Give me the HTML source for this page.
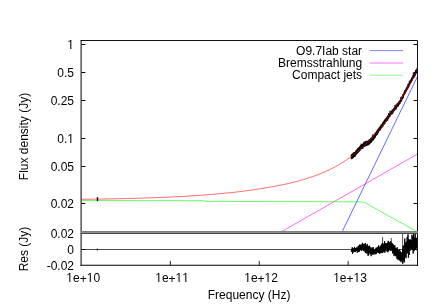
<!DOCTYPE html>
<html><head><meta charset="utf-8"><title>plot</title>
<style>html,body{margin:0;padding:0;background:#fff}svg{display:block;will-change:transform}text{font-family:"Liberation Sans",sans-serif;font-size:12px;fill:#000;font-kerning:none}</style>
</head><body>
<svg width="436" height="304" viewBox="0 0 436 304">
<rect x="0" y="0" width="436" height="304" fill="#fff"/>
<defs><clipPath id="cu"><rect x="81.50" y="40.50" width="336.00" height="192.00"/></clipPath>
<clipPath id="cl"><rect x="81.50" y="233.50" width="336.00" height="31.75"/></clipPath></defs>
<g clip-path="url(#cu)" fill="none" stroke-width="0.6">
<path d="M351.20,154.61V159.21M351.65,154.09V158.84M352.10,154.30V159.18M352.55,153.74V158.27M353.00,152.73V157.57M353.45,152.57V158.25M353.90,152.36V156.97M354.35,152.18V156.95M354.80,151.95V156.68M355.25,151.78V156.78M355.70,150.58V155.32M356.15,150.22V154.87M356.60,149.46V154.35M357.05,149.40V154.12M357.50,148.39V153.31M357.95,147.87V153.10M358.40,147.52V152.35M358.85,147.39V151.93M359.30,147.18V151.67M359.75,145.94V151.05M360.20,145.59V150.62M360.65,145.01V149.50M361.10,143.64V149.09M361.55,144.43V148.85M362.00,144.08V149.19M362.45,144.00V148.71M362.90,143.54V148.85M363.35,142.80V147.56M363.80,141.85V147.02M364.25,142.40V147.03M364.70,141.83V146.71M365.15,140.95V146.56M365.60,141.13V145.54M366.05,141.01V146.26M366.50,140.71V145.71M366.95,141.04V145.70M367.40,140.83V145.47M367.85,140.82V145.25M368.30,140.32V144.78M368.75,139.85V145.25M369.20,139.38V143.94M369.65,139.33V144.45M370.10,139.39V144.04M370.55,138.01V142.82M371.00,137.89V142.59M371.45,137.85V142.58M371.90,136.92V141.74M372.35,135.83V140.87M372.80,134.20V140.38M373.25,135.70V140.07M373.70,135.32V140.50M374.15,134.17V138.49M374.60,133.90V138.66M375.05,132.61V137.11M375.50,133.04V137.73M375.95,131.99V136.04M376.40,131.00V135.74M376.85,130.56V135.06M377.30,130.50V134.91M377.75,129.15V134.27M378.20,128.69V132.71M378.65,128.39V132.59M379.10,127.22V131.15M379.55,127.16V130.97M380.00,126.35V130.76M380.45,126.03V130.08M380.90,124.58V128.90M381.35,124.43V128.31M381.80,124.64V128.27M382.25,123.50V127.36M382.70,122.31V126.35M383.15,122.42V126.61M383.60,121.06V125.09M384.05,120.46V124.35M384.50,120.00V124.49M384.95,119.21V123.96M385.40,118.30V122.17M385.85,118.36V121.96M386.30,118.09V121.93M386.75,116.77V120.87M387.20,116.59V120.88M387.65,115.60V120.30M388.10,115.37V119.49M388.55,113.10V118.95M389.00,113.99V117.89M389.45,113.66V117.22M389.90,110.69V116.98M390.35,112.62V116.39M390.80,111.03V114.98M391.25,110.72V114.82M391.70,110.79V114.42M392.15,109.45V113.59M392.60,109.68V114.20M393.05,109.01V113.11M393.50,108.33V112.23M393.95,107.93V111.51M394.40,107.10V110.83M394.85,104.98V110.48M395.30,106.33V109.85M395.75,104.60V109.07M396.20,104.98V109.53M396.65,104.05V108.09M397.10,103.14V107.33M397.55,102.99V106.58M398.00,102.87V106.56M398.45,101.86V106.38M398.90,101.18V104.99M399.35,100.82V104.62M399.80,100.40V103.92M400.25,100.13V103.56M400.70,96.85V102.06M401.15,98.39V101.98M401.60,97.41V100.93M402.05,95.96V100.13M402.50,94.60V99.07M402.95,94.34V98.64M403.40,93.91V97.95M403.85,92.43V96.12M404.30,91.33V95.00M404.75,89.99V94.25M405.20,89.94V93.69M405.65,89.11V93.21M406.10,87.67V91.53M406.55,87.53V91.40M407.00,86.52V90.07M407.45,85.61V89.72M407.90,83.90V88.78M408.35,83.90V88.20M408.80,83.12V86.83M409.25,80.82V86.48M409.70,81.65V85.45M410.15,80.28V84.27M410.60,79.79V83.44M411.05,78.98V82.48M411.50,77.69V82.34M411.95,77.36V81.11M412.40,76.57V80.55M412.85,75.08V79.36M413.30,72.78V78.72M413.75,73.94V77.80M414.20,71.85V77.44M414.65,73.23V77.39M415.10,72.07V76.02M415.55,69.93V75.39M416.00,69.90V73.65M416.45,69.51V73.36M416.90,68.48V72.45M417.35,67.18V71.60" stroke="#000" stroke-width="0.95"/>
<path d="M81.50,199.32 L83.50,199.29 L85.50,199.27 L87.50,199.25 L89.50,199.22 L91.50,199.20 L93.50,199.17 L95.50,199.14 L97.50,199.11 L99.50,199.08 L101.50,199.05 L103.50,199.02 L105.50,198.99 L107.50,198.95 L109.50,198.92 L111.50,198.88 L113.50,198.84 L115.50,198.80 L117.50,198.76 L119.50,198.72 L121.50,198.67 L123.50,198.63 L125.50,198.58 L127.50,198.53 L129.50,198.48 L131.50,198.43 L133.50,198.38 L135.50,198.32 L137.50,198.27 L139.50,198.21 L141.50,198.15 L143.50,198.09 L145.50,198.02 L147.50,197.96 L149.50,197.89 L151.50,197.82 L153.50,197.74 L155.50,197.67 L157.50,197.59 L159.50,197.51 L161.50,197.43 L163.50,197.35 L165.50,197.26 L167.50,197.17 L169.50,197.08 L171.50,196.99 L173.50,196.89 L175.50,196.79 L177.50,196.69 L179.50,196.58 L181.50,196.47 L183.50,196.36 L185.50,196.25 L187.50,196.13 L189.50,196.01 L191.50,195.88 L193.50,195.75 L195.50,195.62 L197.50,195.49 L199.50,195.35 L201.50,195.20 L203.50,195.06 L205.50,194.91 L207.50,194.75 L209.50,194.59 L211.50,194.43 L213.50,194.26 L215.50,194.09 L217.50,193.91 L219.50,193.73 L221.50,193.54 L223.50,193.35 L225.50,193.16 L227.50,192.95 L229.50,192.75 L231.50,192.54 L233.50,192.32 L235.50,192.09 L237.50,191.87 L239.50,191.63 L241.50,191.39 L243.50,191.14 L245.50,190.89 L247.50,190.63 L249.50,190.36 L251.50,190.08 L253.50,189.80 L255.50,189.51 L257.50,189.22 L259.50,188.91 L261.50,188.60 L263.50,188.28 L265.50,187.95 L267.50,187.61 L269.50,187.26 L271.50,186.90 L273.50,186.54 L275.50,186.16 L277.50,185.77 L279.50,185.37 L281.50,184.96 L283.50,184.53 L285.50,184.10 L287.50,183.65 L289.50,183.19 L291.50,182.71 L293.50,182.22 L295.50,181.71 L297.50,181.18 L299.50,180.64 L301.50,180.08 L303.50,179.50 L305.50,178.90 L307.50,178.28 L309.50,177.64 L311.50,176.98 L313.50,176.29 L315.50,175.57 L317.50,174.83 L319.50,174.05 L321.50,173.25 L323.50,172.42 L325.50,171.55 L327.50,170.65 L329.50,169.71 L331.50,168.73 L333.50,167.71 L335.50,166.64 L337.50,165.53 L339.50,164.38 L341.50,163.17 L343.50,161.91 L345.50,160.60 L347.50,159.24 L349.50,157.81 L351.50,156.32 L353.50,154.78 L355.50,153.16 L357.50,151.49 L359.50,149.76 L361.50,147.99 L363.50,146.14 L365.50,144.35 L367.50,142.56 L369.50,140.66 L371.50,138.66 L373.50,136.55 L375.50,134.35 L377.50,132.05 L379.50,129.66 L381.50,127.17 L383.50,124.59 L385.50,121.92 L387.50,119.17 L389.50,116.34 L391.50,113.43 L393.50,110.44 L395.50,107.39 L397.50,104.26 L399.50,101.08 L401.50,97.83 L403.50,94.52 L405.50,91.16 L407.50,87.75 L409.50,84.29 L411.50,80.78 L413.50,77.24 L415.50,73.65 L417.50,70.02 L417.50,70.02" stroke="#ff0000"/>
<path d="M342.00,232.00 L420.00,71.31" stroke="#0000ff"/>
<path d="M280.90,232.00 L420.00,152.57" stroke="#ff00ff"/>
<path d="M81.50,200.50 L203.00,200.70 L206.00,201.40 L358.50,201.80 L364.30,202.30 L420.00,233.40" stroke="#00ff00"/>
<path d="M97.5,197.2 V201.2" stroke="#000" stroke-width="1.4"/>
</g>
<g clip-path="url(#cl)" fill="none">
<path d="M402.6,233 V264" stroke="#555" stroke-width="1"/>
<path d="M351.30,251.98 L351.60,249.14 L351.90,251.51 L352.20,247.27 L352.50,253.76 L352.80,248.56 L353.10,250.62 L353.40,248.23 L353.70,252.30 L354.00,248.79 L354.30,251.80 L354.60,246.93 L354.90,251.94 L355.20,248.01 L355.50,251.73 L355.80,248.12 L356.10,249.61 L356.40,247.89 L356.70,251.05 L357.00,247.23 L357.30,252.82 L357.60,248.01 L357.90,251.28 L358.20,245.92 L358.50,251.72 L358.80,245.82 L359.10,251.94 L359.40,244.95 L359.70,250.39 L360.00,244.46 L360.30,250.20 L360.60,245.41 L360.90,249.78 L361.20,244.97 L361.50,250.66 L361.80,244.46 L362.10,249.39 L362.40,242.84 L362.70,248.72 L363.00,243.87 L363.30,250.82 L363.60,244.91 L363.90,251.14 L364.20,243.96 L364.50,249.31 L364.80,243.73 L365.10,252.27 L365.40,243.22 L365.70,253.05 L366.00,245.41 L366.30,251.09 L366.60,245.44 L366.90,253.69 L367.20,243.94 L367.50,251.90 L367.80,246.76 L368.10,255.86 L368.40,246.01 L368.70,255.08 L369.00,247.41 L369.30,253.03 L369.60,245.61 L369.90,253.45 L370.20,249.18 L370.50,253.93 L370.80,247.28 L371.10,256.19 L371.40,249.38 L371.70,254.05 L372.00,247.71 L372.30,253.63 L372.60,248.42 L372.90,254.90 L373.20,247.06 L373.50,253.19 L373.80,249.71 L374.10,254.41 L374.40,249.79 L374.70,253.65 L375.00,249.16 L375.30,254.22 L375.60,248.75 L375.90,252.79 L376.20,247.64 L376.50,254.04 L376.80,247.90 L377.10,252.34 L377.40,247.68 L377.70,252.39 L378.00,246.65 L378.30,253.04 L378.60,245.37 L378.90,252.03 L379.20,246.88 L379.50,253.61 L379.80,246.92 L380.10,252.59 L380.40,245.94 L380.70,253.25 L381.00,245.56 L381.30,251.84 L381.60,244.37 L381.90,252.87 L382.20,243.35 L382.50,253.05 L382.80,243.71 L383.10,252.29 L383.40,245.28 L383.70,250.25 L384.00,243.52 L384.30,252.28 L384.60,241.10 L384.90,252.53 L385.20,244.25 L385.50,249.83 L385.80,243.11 L386.10,251.09 L386.40,243.75 L386.70,248.92 L387.00,242.95 L387.30,251.75 L387.60,242.76 L387.90,252.23 L388.20,240.83 L388.50,250.92 L388.80,242.41 L389.10,250.04 L389.40,243.59 L389.70,250.19 L390.00,242.01 L390.30,250.44 L390.60,241.20 L390.90,251.11 L391.20,242.63 L391.50,250.17 L391.80,243.05 L392.10,249.86 L392.40,243.55 L392.70,253.46 L393.00,244.16 L393.30,251.50 L393.60,245.08 L393.90,255.63 L394.20,248.10 L394.50,254.85 L394.80,245.34 L395.10,256.23 L395.40,247.78 L395.70,255.80 L396.00,248.90 L396.30,256.08 L396.60,248.48 L396.90,258.67 L397.20,247.28 L397.50,259.33 L397.80,250.97 L398.10,259.35 L398.40,250.20 L398.70,259.22 L399.00,251.26 L399.30,260.57 L399.60,249.17 L399.90,260.13 L400.20,250.99 L400.50,260.78 L400.80,251.99 L401.10,262.16 L401.40,252.75 L401.70,260.19 L402.00,253.27 L402.30,259.56 L402.60,250.29 L402.90,263.29 L403.20,246.07 L403.60,260.37 L404.00,245.14 L404.40,262.33 L404.80,238.63 L405.20,256.69 L405.60,242.71 L406.00,258.31 L406.40,241.71 L406.80,253.74 L407.20,237.03 L407.60,252.78 L408.00,234.37 L408.40,257.67 L408.80,239.18 L409.20,254.97 L409.60,239.75 L410.00,250.89 L410.40,239.53 L410.80,248.59 L411.20,240.01 L411.60,249.20 L412.00,234.82 L412.40,249.98 L412.80,235.97 L413.20,253.54 L413.60,230.77 L414.00,251.27 L414.40,237.44 L414.80,249.82 L415.20,233.58 L415.60,249.22 L416.00,238.41 L416.40,248.24 L416.80,237.71 L417.20,250.78" stroke="#000" stroke-width="0.95" stroke-linejoin="miter" stroke-miterlimit="10"/>
<path d="M382.6,237 V248 M391.3,238 V247" stroke="#000" stroke-width="0.7"/>
</g>
<path d="M81.50,249.5 H417.50" stroke="#000" stroke-width="0.7" fill="none"/>
<path d="M97.3,248.4 V250.6" stroke="#000" stroke-width="0.8" fill="none"/>
<g fill="none" stroke="#000" stroke-width="1">
<path d="M80.80,40.50 H417.50 V231.50" stroke="#111"/>
<path d="M417.50,234.00 V265.80" stroke="#111"/>
<path d="M418.00,265.25 H80.60" stroke="#000" stroke-width="1.15"/>
<path d="M81.1,40.00 V265.75"/>
</g>
<rect x="80.6" y="231" width="337.4" height="1" fill="#7e7e7e"/>
<rect x="80.6" y="232" width="337.4" height="1" fill="#8e8e8e"/>
<rect x="80.6" y="233" width="337.4" height="1" fill="#474747"/>
<g fill="none" stroke="#000" stroke-width="1">
<path d="M81.50,44.50 h3.9 M417.50,44.50 h-3.9"/>
<path d="M81.50,72.50 h3.9 M417.50,72.50 h-3.9"/>
<path d="M81.50,100.50 h3.9 M417.50,100.50 h-3.9"/>
<path d="M81.50,138.50 h3.9 M417.50,138.50 h-3.9"/>
<path d="M81.50,166.50 h3.9 M417.50,166.50 h-3.9"/>
<path d="M81.50,203.50 h3.9 M417.50,203.50 h-3.9"/>
<path d="M81.50,249.5 h3.9 M417.50,249.5 h-3.9"/>
<path d="M170.31,265.25 v-4.3" stroke="#222"/>
<path d="M259.24,265.25 v-4.3" stroke="#222"/>
<path d="M348.18,265.25 v-4.3" stroke="#222"/>
</g>
<text x="74" y="49" text-anchor="end">1</text>
<text x="74" y="77" text-anchor="end">0.5</text>
<text x="74" y="105" text-anchor="end">0.25</text>
<text x="74" y="143" text-anchor="end">0.1</text>
<text x="74" y="171" text-anchor="end">0.05</text>
<text x="74" y="208" text-anchor="end">0.02</text>
<text x="74" y="238" text-anchor="end">0.02</text>
<text x="74" y="254" text-anchor="end">0</text>
<text x="74" y="270" text-anchor="end">-0.02</text>
<text x="83.2" y="282" text-anchor="middle">1e<tspan dy="1">+</tspan><tspan dy="-1">10</tspan></text>
<text x="172.1" y="282" text-anchor="middle">1e<tspan dy="1">+</tspan><tspan dy="-1">11</tspan></text>
<text x="261.1" y="282" text-anchor="middle">1e<tspan dy="1">+</tspan><tspan dy="-1">12</tspan></text>
<text x="350.0" y="282" text-anchor="middle">1e<tspan dy="1">+</tspan><tspan dy="-1">13</tspan></text>
<text x="249.1" y="299" text-anchor="middle">Frequency (Hz)</text>
<text transform="translate(28.0,136.5) rotate(-90)" text-anchor="middle">Flux density (Jy)</text>
<text transform="translate(28.0,249) rotate(-90)" text-anchor="middle">Res (Jy)</text>
<text x="362.1" y="55" text-anchor="end">O9.7Iab star</text>
<path d="M369.7,50.62 H403.1" stroke="#0000ff" stroke-width="0.50" fill="none"/>
<text x="362.1" y="67" text-anchor="end">Bremsstrahlung</text>
<path d="M369.7,63.00 H403.1" stroke="#ff00ff" stroke-width="0.55" fill="none"/>
<text x="362.1" y="79" text-anchor="end">Compact jets</text>
<path d="M369.7,75.20 H403.1" stroke="#00ff00" stroke-width="0.47" fill="none"/>
<g id="nofoot" fill="#fff"><rect x="67.71" y="48" width="2.62" height="1.05"/><rect x="71.39" y="48" width="3.00" height="1.05"/><rect x="67.71" y="142" width="2.62" height="1.05"/><rect x="71.39" y="142" width="3.00" height="1.05"/><rect x="66.73" y="281" width="2.62" height="1.05"/><rect x="70.41" y="281" width="3.00" height="1.05"/><rect x="87.11" y="281" width="2.62" height="1.05"/><rect x="90.79" y="281" width="3.00" height="1.05"/><rect x="155.63" y="281" width="2.62" height="1.05"/><rect x="159.31" y="281" width="3.00" height="1.05"/><rect x="176.01" y="281" width="2.62" height="1.05"/><rect x="179.69" y="281" width="3.00" height="1.05"/><rect x="182.68" y="281" width="2.62" height="1.05"/><rect x="186.36" y="281" width="3.00" height="1.05"/><rect x="244.63" y="281" width="2.62" height="1.05"/><rect x="248.31" y="281" width="3.00" height="1.05"/><rect x="265.01" y="281" width="2.62" height="1.05"/><rect x="268.69" y="281" width="3.00" height="1.05"/><rect x="333.53" y="281" width="2.62" height="1.05"/><rect x="337.21" y="281" width="3.00" height="1.05"/><rect x="353.91" y="281" width="2.62" height="1.05"/><rect x="357.59" y="281" width="3.00" height="1.05"/></g>
</svg></body></html>
